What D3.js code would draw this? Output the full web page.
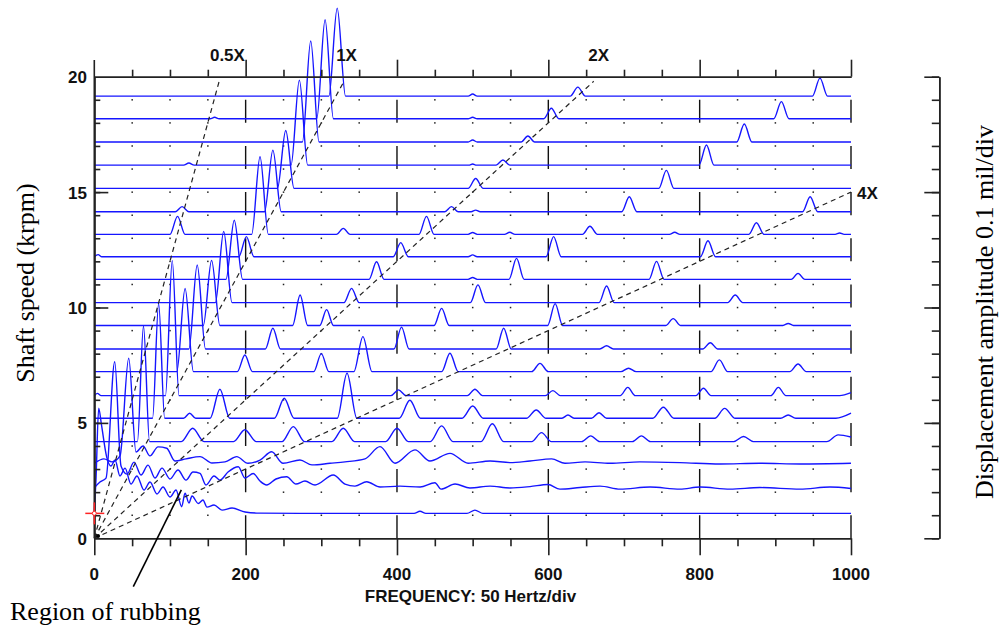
<!DOCTYPE html>
<html>

<head>
    <meta charset="utf-8">
    <title>Waterfall</title>
    <script src="https://cdn.jsdelivr.net/npm/d3@7"></script>
    <style>
        body { margin: 0; background: #fff; }
        .lbl { font-family: "Liberation Sans", Arial, sans-serif; font-weight: bold; font-size: 17px; fill: #111; }
        .ttl { font-family: "Liberation Serif", "Times New Roman", serif; font-size: 26px; fill: #000; }
    </style>
</head>

<body>
    <script>
        // shaft speed of each spectrum (krpm), bottom to top
        var speeds = [1.08, 2.19, 3.25, 4.19, 5.2, 6.18, 7.22, 8.2, 9.22, 10.21,
            11.22, 12.2, 13.17, 14.15, 15.16, 16.17, 17.17, 18.18, 19.16];

        // spectra: [frequency Hz, displacement amplitude mil]
        var spec01 = [[0, 0], [2.2, 0.144], [5.8, 0.456], [9.5, 0.383], [16.4, 0.244], [22.1, 0.205], [27.4, 0.231],
            [34, 0.162], [40.6, 0.196], [48.5, 0.127], [56.4, 0.162], [65.7, 0.101], [73.6, 0.136], [82.9, 0.084],
            [90.8, 0.114], [100, 0.071], [108, 0.101], [115.5, 0.029], [119.9, 0.087], [125.1, 0.045], [129.1, 0.075],
            [137.4, 0.043], [143.6, 0.058], [148.9, 0.027], [158.2, 0.036], [168.8, 0.014], [182, 0.023], [199.2, 0.006],
            [219, 0.001], [271.8, 0], [422.5, 0], [430.4, 0.009], [438.3, 0], [492.5, 0], [503, 0.014], [513.6, 0], [1000, 0]];
        var spec02 = [[0, 0], [7.5, 0.025], [15.5, 0.042], [27, 0.546], [35.3, 0.094], [43.2, 0.059], [52.5, 0.111],
            [61.7, 0.055], [71, 0.098], [80.2, 0.042], [89.5, 0.085], [100, 0.038], [110.6, 0.077], [121.2, 0.033],
            [130.4, 0.068], [139.7, 0.062], [147.6, 0.012], [158.2, 0.051], [166.1, 0.033], [176.7, 0.068], [190.3, 0.091],
            [199.2, 0.042], [210.1, 0.062], [219, 0.029], [227.8, 0.012], [240.1, 0.038], [254.3, 0.048], [266.5, 0.016],
            [278.4, 0.029], [291.7, 0.012], [315.8, 0.055], [331.3, 0.016], [344.5, 0.007], [360, 0.026], [377.6, 0.003],
            [404, 0.007], [430.5, 0.003], [450.2, 0.022], [458.2, -0.006], [476.7, 0.016], [496.5, -0.001], [523, 0.007],
            [549.3, -0.001], [575.8, 0.005], [599.6, 0.014], [615.4, -0.006], [641.9, 0.001], [668.3, 0.007], [694.8, -0.006],
            [734.4, 0.003], [774, -0.006], [800.5, 0.003], [840.1, -0.006], [879.7, 0.001], [932.6, -0.006], [972.2, 0.003],
            [1000, -0.003]];
        var spec03 = [[0, 0], [12.8, 0.019], [23.4, 0.006], [34, 0.032], [45.5, 0.455], [55.1, 0.049], [64.4, 0.075],
            [73.6, 0.032], [84.2, 0.071], [95.7, 0.065], [106.6, 0.01], [121.2, 0.019], [139.7, 0.029], [155.5, 0.001],
            [172.7, 0.006], [188.2, 0.029], [203.1, 0], [219, 0.014], [234.4, 0.05], [249.4, 0], [271.8, 0.014],
            [287.7, -0.007], [311.5, 0], [331.3, 0.006], [357.7, 0.019], [377.6, 0.072], [397.4, 0], [423.8, 0.058],
            [443.6, 0.01], [470.1, 0.043], [494, 0], [523, 0.01], [549.3, 0.003], [575.8, 0.01], [604.4, 0.019], [622, 0],
            [648.5, 0.006], [681.5, 0], [721, 0.006], [774, 0.003], [826.9, -0.003], [879.7, 0], [932.6, -0.003], [1000, 0]];
        var spec04 = [[0, 0], [57, 0], [65, 0.501], [73, 0], [115, 0], [130, 0.058], [145, 0], [184, 0], [199, 0.051],
            [214, 0], [248, 0], [263, 0.065], [278, 0], [314, 0], [329, 0.058], [344, 0], [385, 0], [400, 0.058], [415, 0],
            [444, 0], [459, 0.068], [474, 0], [511, 0], [526, 0.077], [541, 0], [578, 0], [591, 0.039], [604, 0], [644, 0],
            [656, 0.025], [668, 0], [711, 0], [723, 0.025], [735, 0], [845, 0], [858, 0.022], [871, 0], [968, 0],
            [983, 0.029], [1000, 0.02]];
        var spec05 = [[0, 0], [77, 0], [85, 0.498], [93, 0], [118, 0], [126, 0.022], [134, 0], [153, 0], [166, 0.126],
            [179, 0], [238, 0], [251, 0.087], [264, 0], [321, 0], [334, 0.195], [347, 0], [403, 0], [417, 0.078], [431, 0],
            [486, 0], [500, 0.053], [514, 0], [571, 0], [584, 0.036], [597, 0], [618, 0], [626, 0.014], [634, 0], [657, 0],
            [667, 0.024], [677, 0], [738, 0], [752, 0.048], [766, 0], [820, 0], [833, 0.043], [847, 0], [907, 0],
            [917, 0.014], [927, 0], [980, 0], [1000, 0.022]];
        var spec06 = [[0, 0], [4, 0.01], [9, 0], [94, 0], [103, 0.585], [112, 0], [392, 0], [402, 0.025], [412, 0],
            [493, 0], [503, 0.028], [513, 0], [596, 0], [606, 0.022], [616, 0], [695, 0], [705, 0.036], [715, 0], [795, 0],
            [805, 0.032], [815, 0], [894, 0], [904, 0.036], [914, 0], [985, 0], [1000, 0.013]];
        var spec07 = [[0, 0], [109, 0], [120, 0.36], [131, 0], [189, 0], [199, 0.072], [209, 0], [290, 0], [300, 0.078],
            [310, 0], [343, 0], [355, 0.152], [367, 0], [459, 0], [470, 0.08], [481, 0], [578, 0], [589, 0.036], [600, 0],
            [696, 0], [706, 0.015], [716, 0], [815, 0], [826, 0.051], [837, 0], [919, 0], [930, 0.033], [941, 0], [1000, 0]];
        var spec08 = [[0, 0], [125, 0], [136, 0.364], [147, 0], [226, 0], [236, 0.09], [246, 0], [396, 0], [406, 0.095],
            [416, 0], [531, 0], [541, 0.09], [551, 0], [668, 0], [677, 0.014], [686, 0], [804, 0], [814, 0.027], [824, 0],
            [1000, 0]];
        var spec09 = [[0, 0], [144, 0], [155, 0.282], [166, 0], [262, 0], [272, 0.132], [282, 0], [298, 0], [307, 0.069],
            [316, 0], [449, 0], [459, 0.074], [469, 0], [599, 0], [609, 0.095], [619, 0], [755, 0], [765, 0.03], [775, 0],
            [910, 0], [917, 0.009], [924, 0], [1000, 0]];
        var spec10 = [[0, 0], [160, 0], [171, 0.308], [182, 0], [330, 0], [340, 0.062], [350, 0], [497, 0], [507, 0.077],
            [517, 0], [667, 0], [677, 0.072], [687, 0], [837, 0], [847, 0.033], [857, 0], [1000, 0]];
        var spec11 = [[0, 0], [174, 0], [185, 0.256], [196, 0], [363, 0], [373, 0.076], [383, 0], [494, 0], [500, 0.008],
            [506, 0], [548, 0], [558, 0.091], [568, 0], [733, 0], [743, 0.078], [753, 0], [921, 0], [930, 0.026], [939, 0],
            [1000, 0]];
        var spec12 = [[0, 0], [5, 0.009], [10, 0], [191, 0], [201, 0.087], [211, 0], [395, 0], [405, 0.061], [415, 0],
            [494, 0], [500, 0.008], [506, 0], [597, 0], [607, 0.087], [617, 0], [801, 0], [811, 0.069], [821, 0], [1000, 0]];
        var spec13 = [[0, 0], [100, 0], [110, 0.078], [120, 0], [208, 0], [219, 0.336], [230, 0], [320, 0], [329, 0.026],
            [338, 0], [429, 0], [439, 0.078], [449, 0], [494, 0], [500, 0.008], [506, 0], [542, 0], [549, 0.009], [556, 0],
            [645, 0], [655, 0.035], [665, 0], [760, 0], [767, 0.009], [774, 0], [865, 0], [875, 0.05], [885, 0], [979, 0],
            [985, 0.006], [991, 0], [1000, 0]];
        var spec14 = [[0, 0], [107, 0], [116, 0.022], [125, 0], [225, 0], [236, 0.267], [247, 0], [463, 0], [472, 0.022],
            [481, 0], [498, 0], [504, 0.007], [510, 0], [697, 0], [707, 0.065], [717, 0], [936, 0], [946, 0.065], [956, 0],
            [1000, 0]];
        var spec15 = [[0, 0], [242, 0], [253, 0.251], [264, 0], [494, 0], [504, 0.043], [514, 0], [746, 0], [756, 0.078],
            [766, 0], [1000, 0]];
        var spec16 = [[0, 0], [118, 0], [125, 0.009], [132, 0], [260, 0], [271, 0.368], [282, 0], [495, 0], [500, 0.005],
            [505, 0], [531, 0], [540, 0.022], [549, 0], [799, 0], [809, 0.087], [819, 0], [1000, 0]];
        var spec17 = [[0, 0], [275, 0], [286, 0.438], [297, 0], [494, 0], [500, 0.009], [506, 0], [564, 0], [573, 0.026],
            [582, 0], [849, 0], [859, 0.078], [869, 0], [1000, 0]];
        var spec18 = [[0, 0], [153, 0], [159, 0.006], [165, 0], [294, 0], [305, 0.429], [316, 0], [494, 0], [500, 0.006],
            [506, 0], [594, 0], [604, 0.045], [614, 0], [898, 0], [908, 0.074], [918, 0], [1000, 0]];
        var spec19 = [[0, 0], [310, 0], [321, 0.381], [332, 0], [494, 0], [500, 0.009], [506, 0], [629, 0], [639, 0.039],
            [649, 0], [949, 0], [959, 0.078], [969, 0], [1000, 0]];

        var spectra = [spec01, spec02, spec03, spec04, spec05, spec06, spec07, spec08, spec09, spec10,
            spec11, spec12, spec13, spec14, spec15, spec16, spec17, spec18, spec19];

        var orderMultiples = [0.5, 1, 2, 4];
        var orderLabels = ["0.5X", "1X", "2X", "4X"];
        var freqTicks = [0, 200, 400, 600, 800, 1000];
        var speedTicks = [0, 5, 10, 15, 20];

        var x = d3.scaleLinear().domain([0, 1000]).range([94.3, 851]);
        var y = d3.scaleLinear().domain([0, 20]).range([538.3, 76.7]);
        var amp = d3.scaleLinear().domain([0, 2]).range([538.3, 76.7]);   // 0.1 mil/div

        var svg = d3.select("body").append("svg")
            .attr("width", 1000)
            .attr("height", 627);

        // grid dots at every 50 Hz / 1 krpm
        var dotF = d3.range(50, 1000, 50).filter(function(f) { return f % 200 !== 0; });
        var dots = [];
        d3.range(1, 20).forEach(function(k) {
            dotF.forEach(function(f) { dots.push([f, k]); });
        });
        svg.append("g").selectAll("rect").data(dots).enter().append("rect")
            .attr("x", function(d) { return x(d[0]) - 0.7; })
            .attr("y", function(d) { return y(d[1]) - 0.7; })
            .attr("width", 1.5).attr("height", 1.5)
            .attr("fill", "#222");

        // broken grid lines at major frequencies
        var step = y(0) - y(1);
        svg.append("g").selectAll("line").data(freqTicks.slice(1)).enter().append("line")
            .attr("x1", function(d) { return x(d); })
            .attr("x2", function(d) { return x(d); })
            .attr("y1", y(0)).attr("y2", y(19))
            .attr("stroke", "#111").attr("stroke-width", 1.4)
            .attr("stroke-dasharray", step + "," + step);

        // spectra
        var g = svg.append("g");
        spectra.forEach(function(s, i) {
            var line = d3.line()
                .x(function(d) { return x(d[0]); })
                .y(function(d) { return y(speeds[i] + d[1] * 10); })
                .curve(d3.curveMonotoneX);
            g.append("path")
                .attr("d", line(s))
                .attr("fill", "none")
                .attr("stroke", "#1515ff")
                .attr("stroke-width", 1.4);
        });

        // order lines
        orderMultiples.forEach(function(k, i) {
            var sEnd = Math.min(19.8, 60 / k);
            var fEnd = k * sEnd * 1000 / 60;
            svg.append("line")
                .attr("x1", x(0)).attr("y1", y(0))
                .attr("x2", x(fEnd)).attr("y2", y(sEnd))
                .attr("stroke", "#222").attr("stroke-width", 1.2)
                .attr("stroke-dasharray", "5,4");
            var t = svg.append("text").attr("class", "lbl").text(orderLabels[i]);
            if (k === 4) {
                t.attr("x", x(fEnd) + 6).attr("y", y(sEnd) + 7);
            } else {
                t.attr("x", x(k * 20 * 1000 / 60) + (k === 0.5 ? 7 : 0)).attr("y", 60.5)
                    .attr("text-anchor", "middle");
            }
        });

        var axisStyle = function(sel) {
            sel.selectAll("path, line").attr("stroke", "#222").attr("stroke-width", 1.6);
            sel.selectAll("text").remove();
        };
        var minorF = d3.range(0, 1001, 50).filter(function(f) { return f % 200 !== 0; });

        // bottom axis
        svg.append("g").attr("transform", "translate(0," + y(0) + ")")
            .call(d3.axisBottom(x).tickValues(minorF).tickSize(8).tickSizeOuter(0))
            .call(axisStyle);
        svg.append("g").attr("transform", "translate(0," + y(0) + ")")
            .call(d3.axisBottom(x).tickValues(freqTicks).tickSize(17).tickSizeOuter(0))
            .call(axisStyle);

        // top axis
        svg.append("g").attr("transform", "translate(0," + y(20) + ")")
            .call(d3.axisTop(x).tickValues(minorF).tickSize(7).tickSizeOuter(0))
            .call(axisStyle);
        svg.append("g").attr("transform", "translate(0," + y(20) + ")")
            .call(d3.axisTop(x).tickValues(freqTicks.slice(1)).tickSize(17).tickSizeOuter(0))
            .call(axisStyle);

        // left axis
        svg.append("line").attr("x1", x(0)).attr("x2", x(0)).attr("y1", 60).attr("y2", y(0))
            .attr("stroke", "#222").attr("stroke-width", 1.6);
        svg.append("g").attr("transform", "translate(" + x(0) + ",0)")
            .call(d3.axisRight(y).tickValues(d3.range(1, 20)).tickSize(6).tickSizeOuter(0))
            .call(axisStyle);
        svg.append("g").attr("transform", "translate(" + x(0) + ",0)")
            .call(d3.axisRight(y).tickValues([5, 10, 15]).tickSize(14).tickSizeOuter(0))
            .call(axisStyle);

        // right amplitude axis
        svg.append("g").attr("transform", "translate(939.3,0)")
            .call(d3.axisLeft(amp).tickValues(d3.range(0, 2.001, 0.1)).tickSize(7.5).tickSizeOuter(0))
            .call(axisStyle);
        svg.append("g").attr("transform", "translate(939.3,0)")
            .call(d3.axisLeft(amp).tickValues([0, 0.5, 1, 1.5, 2]).tickSize(15).tickSizeOuter(0))
            .call(axisStyle);

        // tick labels
        svg.append("g").selectAll("text").data(freqTicks).enter().append("text")
            .attr("class", "lbl")
            .attr("x", function(d) { return x(d); })
            .attr("y", 580)
            .attr("text-anchor", "middle")
            .text(function(d) { return d; });
        svg.append("g").selectAll("text").data(speedTicks).enter().append("text")
            .attr("class", "lbl")
            .attr("x", 87)
            .attr("y", function(d) { return y(d) + 6.5; })
            .attr("text-anchor", "end")
            .text(function(d) { return d; });

        svg.append("text").attr("class", "lbl")
            .attr("x", 470.5).attr("y", 601.5)
            .attr("text-anchor", "middle")
            .text("FREQUENCY: 50 Hertz/div");

        // titles
        svg.append("text").attr("class", "ttl")
            .attr("transform", "translate(34,283) rotate(-90)")
            .attr("text-anchor", "middle")
            .text("Shaft speed (krpm)");
        svg.append("text").attr("class", "ttl")
            .attr("transform", "translate(993,312) rotate(-90)")
            .attr("text-anchor", "middle")
            .text("Displacement amplitude 0.1 mil/div");

        // cursor at the first spectrum
        var cx = x(0), cy = y(speeds[0]);
        svg.append("line").attr("x1", cx - 9).attr("x2", cx + 10).attr("y1", cy).attr("y2", cy)
            .attr("stroke", "#f22").attr("stroke-width", 1.5);
        svg.append("line").attr("x1", cx).attr("x2", cx).attr("y1", cy - 11).attr("y2", cy + 11)
            .attr("stroke", "#f22").attr("stroke-width", 1.5);
        svg.append("circle").attr("cx", cx).attr("cy", cy).attr("r", 2)
            .attr("fill", "#fff").attr("stroke", "#f22").attr("stroke-width", 1);
        svg.append("circle").attr("cx", x(5)).attr("cy", y(0.1)).attr("r", 2).attr("fill", "#000");

        // annotation
        svg.append("line")
            .attr("x1", 133.3).attr("y1", 586.7)
            .attr("x2", x(115)).attr("y2", y(2.1))
            .attr("stroke", "#000").attr("stroke-width", 1.6);
        svg.append("text").attr("class", "ttl")
            .attr("x", 10).attr("y", 620)
            .text("Region of rubbing");
    </script>
</body>

</html>
